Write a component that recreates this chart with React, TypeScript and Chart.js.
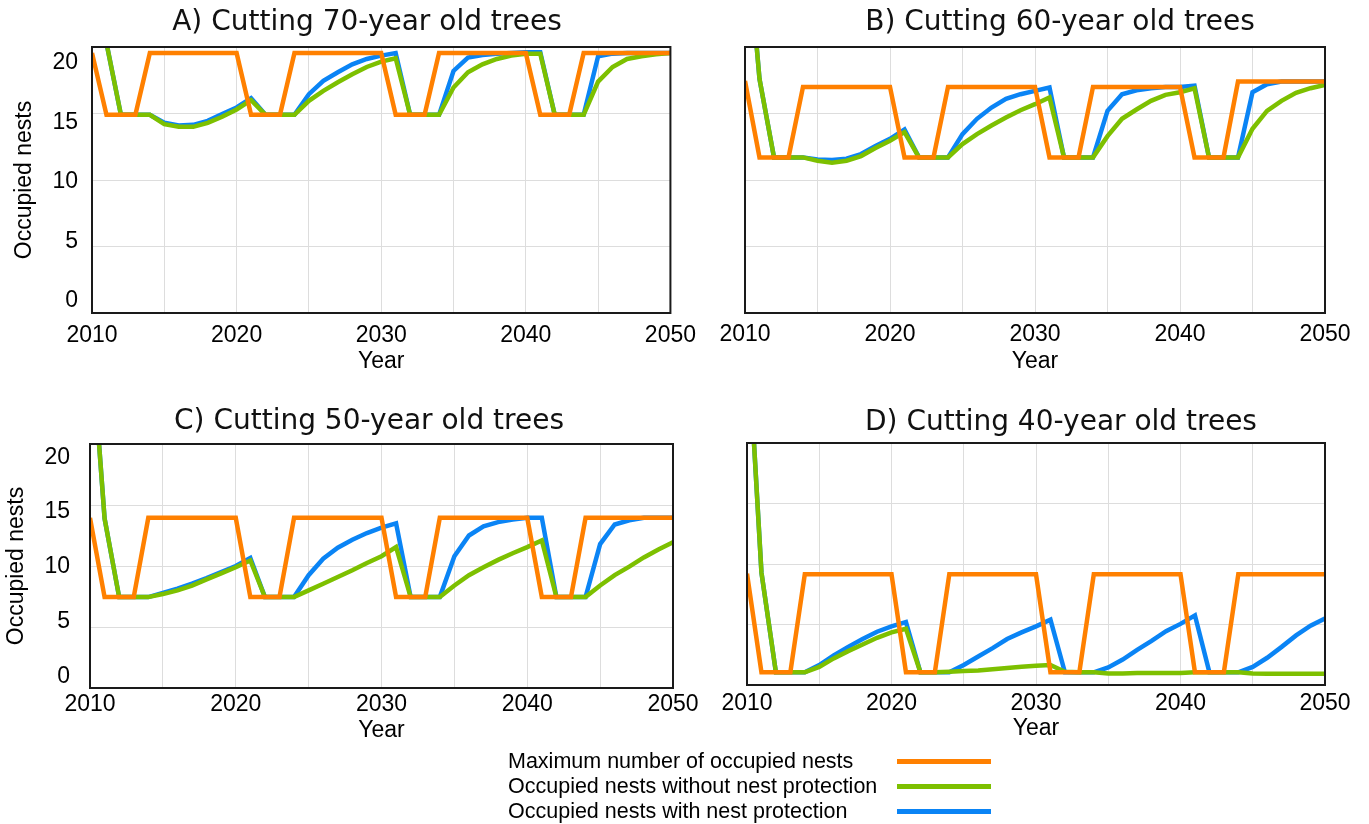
import React, { useEffect, useRef } from 'react';
import { Chart, registerables } from 'chart.js';

Chart.register(...registerables);

// ---------- DATA ----------
const years = [
  2010, 2011, 2012, 2013, 2014, 2015, 2016, 2017, 2018, 2019,
  2020, 2021, 2022, 2023, 2024, 2025, 2026, 2027, 2028, 2029,
  2030, 2031, 2032, 2033, 2034, 2035, 2036, 2037, 2038, 2039,
  2040, 2041, 2042, 2043, 2044, 2045, 2046, 2047, 2048, 2049, 2050,
];
const xGridYears = [2010, 2015, 2020, 2025, 2030, 2035, 2040, 2045, 2050];
const xTickLabels = ['2010', '2020', '2030', '2040', '2050'];
const yTicks = [0, 5, 10, 15, 20];

const panelTitles = [
  'A) Cutting 70-year old trees',
  'B) Cutting 60-year old trees',
  'C) Cutting 50-year old trees',
  'D) Cutting 40-year old trees',
];
const seriesNames = [
  'Maximum number of occupied nests',
  'Occupied nests without nest protection',
  'Occupied nests with nest protection',
];

// Panel A (70-year)
const maxA = [
  19.55, 14.9, 14.9, 14.9, 19.55, 19.55, 19.55, 19.55, 19.55, 19.55,
  19.55, 14.9, 14.9, 14.9, 19.55, 19.55, 19.55, 19.55, 19.55, 19.55,
  19.55, 14.9, 14.9, 14.9, 19.55, 19.55, 19.55, 19.55, 19.55, 19.55,
  19.55, 14.9, 14.9, 14.9, 19.55, 19.55, 19.55, 19.55, 19.55, 19.55, 19.55,
];
const noProtA = [
  30, 20.3, 14.9, 14.9, 14.9, 14.2, 14.0, 14.0, 14.3, 14.75,
  15.3, 16.0, 14.9, 14.9, 14.9, 15.95, 16.7, 17.35, 17.95, 18.5,
  18.9, 19.15, 14.9, 14.9, 14.9, 16.95, 18.1, 18.7, 19.1, 19.35,
  19.5, 19.5, 14.9, 14.9, 14.9, 17.4, 18.5, 19.1, 19.3, 19.45, 19.55,
];
const protA = [
  30, 20.3, 14.9, 14.9, 14.9, 14.3, 14.1, 14.15, 14.45, 14.95,
  15.45, 16.15, 14.9, 14.9, 14.9, 16.45, 17.45, 18.1, 18.7, 19.1,
  19.35, 19.55, 14.9, 14.9, 14.9, 18.2, 19.2, 19.4, 19.5, 19.55,
  19.6, 19.6, 14.9, 14.9, 14.9, 19.3, 19.5, 19.55, 19.55, 19.55, 19.55,
];

// Panel B (60-year)
const maxB = [
  17.45, 11.7, 11.7, 11.7, 17.0, 17.0, 17.0, 17.0, 17.0, 17.0,
  17.0, 11.7, 11.7, 11.7, 17.0, 17.0, 17.0, 17.0, 17.0, 17.0,
  17.0, 11.7, 11.7, 11.7, 17.0, 17.0, 17.0, 17.0, 17.0, 17.0,
  17.0, 11.7, 11.7, 11.7, 17.4, 17.4, 17.4, 17.4, 17.4, 17.4, 17.4,
];
const noProtB = [
  30, 17.6, 11.7, 11.7, 11.7, 11.45, 11.3, 11.45, 11.8, 12.4,
  12.95, 13.6, 11.7, 11.7, 11.7, 12.7, 13.45, 14.1, 14.7, 15.25,
  15.7, 16.2, 11.7, 11.7, 11.7, 13.3, 14.6, 15.3, 15.95, 16.4,
  16.6, 16.9, 11.7, 11.7, 11.7, 13.85, 15.2, 15.95, 16.55, 16.9, 17.15,
];
const protB = [
  30, 17.6, 11.7, 11.7, 11.7, 11.55, 11.5, 11.6, 11.95, 12.55,
  13.1, 13.8, 11.7, 11.7, 11.7, 13.45, 14.6, 15.45, 16.1, 16.45,
  16.7, 16.95, 11.7, 11.7, 11.7, 15.2, 16.45, 16.75, 16.9, 17.0,
  17.0, 17.1, 11.7, 11.7, 11.7, 16.6, 17.2, 17.4, 17.4, 17.4, 17.4,
];

// Panel C (50-year)
const maxC = [
  13.95, 7.45, 7.45, 7.45, 13.95, 13.95, 13.95, 13.95, 13.95, 13.95,
  13.95, 7.45, 7.45, 7.45, 13.95, 13.95, 13.95, 13.95, 13.95, 13.95,
  13.95, 7.45, 7.45, 7.45, 13.95, 13.95, 13.95, 13.95, 13.95, 13.95,
  13.95, 7.45, 7.45, 7.45, 13.95, 13.95, 13.95, 13.95, 13.95, 13.95, 13.95,
];
const noProtC = [
  30, 13.9, 7.45, 7.45, 7.45, 7.7, 8.0, 8.4, 8.9, 9.4,
  9.9, 10.45, 7.45, 7.45, 7.45, 8.0, 8.55, 9.1, 9.65, 10.25,
  10.8, 11.55, 7.45, 7.45, 7.45, 8.4, 9.25, 9.9, 10.5, 11.05,
  11.55, 12.1, 7.45, 7.45, 7.45, 8.4, 9.25, 9.95, 10.7, 11.35, 11.95,
];
const protC = [
  30, 13.9, 7.45, 7.45, 7.45, 7.8, 8.15, 8.55, 9.0, 9.5,
  10.0, 10.65, 7.45, 7.45, 7.45, 9.25, 10.6, 11.5, 12.15, 12.7,
  13.15, 13.5, 7.45, 7.45, 7.45, 10.8, 12.5, 13.25, 13.6, 13.8,
  13.95, 13.95, 7.45, 7.45, 7.45, 11.8, 13.4, 13.75, 13.95, 13.95, 13.95,
];

// Panel D (40-year)
const maxD = [
  9.2, 1.05, 1.05, 1.05, 9.15, 9.15, 9.15, 9.15, 9.15, 9.15,
  9.15, 1.05, 1.05, 1.05, 9.15, 9.15, 9.15, 9.15, 9.15, 9.15,
  9.15, 1.05, 1.05, 1.05, 9.15, 9.15, 9.15, 9.15, 9.15, 9.15,
  9.15, 1.05, 1.05, 1.05, 9.15, 9.15, 9.15, 9.15, 9.15, 9.15, 9.15,
];
const noProtD = [
  30, 9.3, 1.05, 1.05, 1.05, 1.5, 2.2, 2.8, 3.35, 3.9,
  4.35, 4.65, 1.05, 1.05, 1.1, 1.15, 1.2, 1.3, 1.4, 1.5,
  1.6, 1.65, 1.1, 1.05, 1.05, 0.95, 0.95, 1.0, 1.0, 1.0,
  1.0, 1.05, 1.05, 1.05, 1.05, 0.95, 0.93, 0.93, 0.92, 0.92, 0.92,
];
const protD = [
  30, 9.3, 1.05, 1.05, 1.05, 1.65, 2.45, 3.15, 3.8, 4.4,
  4.85, 5.2, 1.05, 1.05, 1.05, 1.65, 2.35, 3.05, 3.8, 4.35,
  4.85, 5.4, 1.05, 1.05, 1.05, 1.45, 2.1, 2.9, 3.65, 4.45,
  5.05, 5.75, 1.05, 1.05, 1.05, 1.5, 2.25, 3.15, 4.1, 4.9, 5.5,
];

// ---------- STYLE ----------
const COLOR_MAX = '#FF8000';
const COLOR_NOPROT = '#7DC000';
const COLOR_PROT = '#0A84F5';
const seriesColors = [COLOR_MAX, COLOR_NOPROT, COLOR_PROT];
const SANS = '"Liberation Sans", Arial, sans-serif';
const TITLE_FONT = '"DejaVu Sans", Verdana, sans-serif';
const GRID = '#dddddd';

type PanelCfg = {
  left: number; top: number; width: number; height: number;
  padTop: number; padRight: number; padLeft: number;
  showY: boolean; yAxisWidth: number; yLabelMin: number; yLabelMax: number;
  yTickPad: number; yTitlePad: number;
  xAxisHeight: number; xTickPad: number; xTitlePad: number;
  max: number[]; noProt: number[]; prot: number[];
};

const panels: PanelCfg[] = [
  { left: 0, top: 0, width: 705, height: 390, padTop: 47, padRight: 30, padLeft: 0,
    showY: true, yAxisWidth: 92, yLabelMin: -1, yLabelMax: 21.35, yTickPad: 14, yTitlePad: 11,
    xAxisHeight: 77, xTickPad: 9, xTitlePad: 15, max: maxA, noProt: noProtA, prot: protA },
  { left: 705, top: 0, width: 664, height: 390, padTop: 47, padRight: 44, padLeft: 40,
    showY: false, yAxisWidth: 0, yLabelMin: -1, yLabelMax: 21.35, yTickPad: 14, yTitlePad: 11,
    xAxisHeight: 77, xTickPad: 8, xTitlePad: 15, max: maxB, noProt: noProtB, prot: protB },
  { left: 0, top: 395, width: 705, height: 370, padTop: 49, padRight: 32, padLeft: 0,
    showY: true, yAxisWidth: 90, yLabelMin: -1, yLabelMax: 21.2, yTickPad: 20, yTitlePad: 3,
    xAxisHeight: 77, xTickPad: 3, xTitlePad: 21, max: maxC, noProt: noProtC, prot: protC },
  { left: 705, top: 395, width: 664, height: 370, padTop: 48, padRight: 44, padLeft: 42,
    showY: false, yAxisWidth: 0, yLabelMin: -1, yLabelMax: 21.2, yTickPad: 20, yTitlePad: 3,
    xAxisHeight: 80, xTickPad: 5, xTitlePad: 23, max: maxD, noProt: noProtD, prot: protD },
];

const titlePos = [
  { cx: 367, top: 4 },
  { cx: 1060, top: 4 },
  { cx: 369, top: 403 },
  { cx: 1061, top: 404 },
];

const framePlugin = {
  id: 'frame',
  afterDatasetsDraw(chart: any) {
    const { ctx, chartArea } = chart;
    const { left, top, right, bottom } = chartArea;
    ctx.save();
    ctx.strokeStyle = '#1a1a1a';
    ctx.lineWidth = 2;
    ctx.strokeRect(left, top, right - left, bottom - top);
    ctx.restore();
  },
};

function toPoints(vals: number[]) {
  return years.map((x, i) => ({ x, y: vals[i] }));
}

function Panel({ cfg }: { cfg: PanelCfg }) {
  const ref = useRef<HTMLCanvasElement | null>(null);
  useEffect(() => {
    if (!ref.current) return;
    const tickFont = { family: SANS, size: 23 };
    const chart = new Chart(ref.current, {
      type: 'line',
      data: {
        datasets: [
          { label: seriesNames[0], data: toPoints(cfg.max), borderColor: COLOR_MAX, order: 1 },
          { label: seriesNames[1], data: toPoints(cfg.noProt), borderColor: COLOR_NOPROT, order: 2 },
          { label: seriesNames[2], data: toPoints(cfg.prot), borderColor: COLOR_PROT, order: 3 },
        ] as any,
      },
      options: {
        responsive: false,
        animation: false,
        devicePixelRatio: 1,
        parsing: true,
        elements: {
          line: { borderWidth: 4.5, tension: 0, fill: false },
          point: { radius: 0, hoverRadius: 0 },
        },
        layout: { padding: { top: cfg.padTop, right: cfg.padRight, left: cfg.padLeft, bottom: 0 } },
        plugins: { legend: { display: false }, tooltip: { enabled: false }, title: { display: false } },
        scales: {
          x: {
            type: 'linear',
            position: 'bottom',
            min: 2010,
            max: 2050,
            afterBuildTicks: (s: any) => { s.ticks = xGridYears.map((v) => ({ value: v })); },
            afterFit: (s: any) => { s.height = cfg.xAxisHeight; },
            ticks: {
              autoSkip: false,
              maxRotation: 0,
              minRotation: 0,
              padding: cfg.xTickPad,
              color: '#000',
              font: tickFont,
              callback: (v: any) => (xTickLabels.includes(String(v)) ? String(v) : ''),
            },
            grid: { color: GRID, lineWidth: 1, drawTicks: false },
            border: { display: false },
            title: {
              display: true,
              text: 'Year',
              color: '#000',
              font: tickFont,
              padding: { top: 0, bottom: cfg.xTitlePad },
            },
          },
          y: {
            type: 'linear',
            position: 'left',
            min: 0,
            max: 20,
            weight: 0,
            afterBuildTicks: (s: any) => { s.ticks = yTicks.map((v) => ({ value: v })); },
            afterFit: (s: any) => { s.width = 0; },
            ticks: { display: false },
            grid: { color: GRID, lineWidth: 1, drawTicks: false },
            border: { display: false },
          },
          yl: {
            type: 'linear',
            position: 'left',
            display: cfg.showY,
            min: cfg.yLabelMin,
            max: cfg.yLabelMax,
            weight: 1,
            afterBuildTicks: (s: any) => { s.ticks = yTicks.map((v) => ({ value: v })); },
            afterFit: (s: any) => { s.width = cfg.yAxisWidth; },
            ticks: { padding: cfg.yTickPad, color: '#000', font: tickFont },
            grid: { display: false, drawTicks: false },
            border: { display: false },
            title: {
              display: true,
              text: 'Occupied nests',
              color: '#000',
              font: tickFont,
              padding: { top: cfg.yTitlePad, bottom: 0 },
            },
          },
        },
      } as any,
      plugins: [framePlugin],
    });
    return () => chart.destroy();
  }, [cfg]);
  return (
    <canvas
      ref={ref}
      width={cfg.width}
      height={cfg.height}
      style={{ position: 'absolute', left: cfg.left, top: cfg.top, width: cfg.width, height: cfg.height }}
    />
  );
}

const legendRows = [761, 786, 811];

export default function App() {
  return (
    <div
      style={{
        position: 'absolute', left: 0, top: 0, width: 1369, height: 824,
        background: '#fff', overflow: 'hidden',
      }}
    >
      {panels.map((p, i) => (
        <Panel key={i} cfg={p} />
      ))}
      {panelTitles.map((t, i) => (
        <div
          key={'t' + i}
          style={{
            position: 'absolute', left: titlePos[i].cx - 300, top: titlePos[i].top, width: 600,
            textAlign: 'center', fontFamily: TITLE_FONT, fontSize: 28, lineHeight: '34px',
            color: '#111', whiteSpace: 'nowrap',
          }}
        >
          {t}
        </div>
      ))}
      {seriesNames.map((name, i) => (
        <React.Fragment key={'l' + i}>
          <div
            style={{
              position: 'absolute', left: 508, top: legendRows[i] - 12.5, height: 25,
              lineHeight: '25px', fontFamily: SANS, fontSize: 21.5, color: '#000', whiteSpace: 'nowrap',
            }}
          >
            {name}
          </div>
          <div
            style={{
              position: 'absolute', left: 897, top: legendRows[i] - 2.5, width: 94, height: 5,
              background: seriesColors[i],
            }}
          />
        </React.Fragment>
      ))}
    </div>
  );
}
